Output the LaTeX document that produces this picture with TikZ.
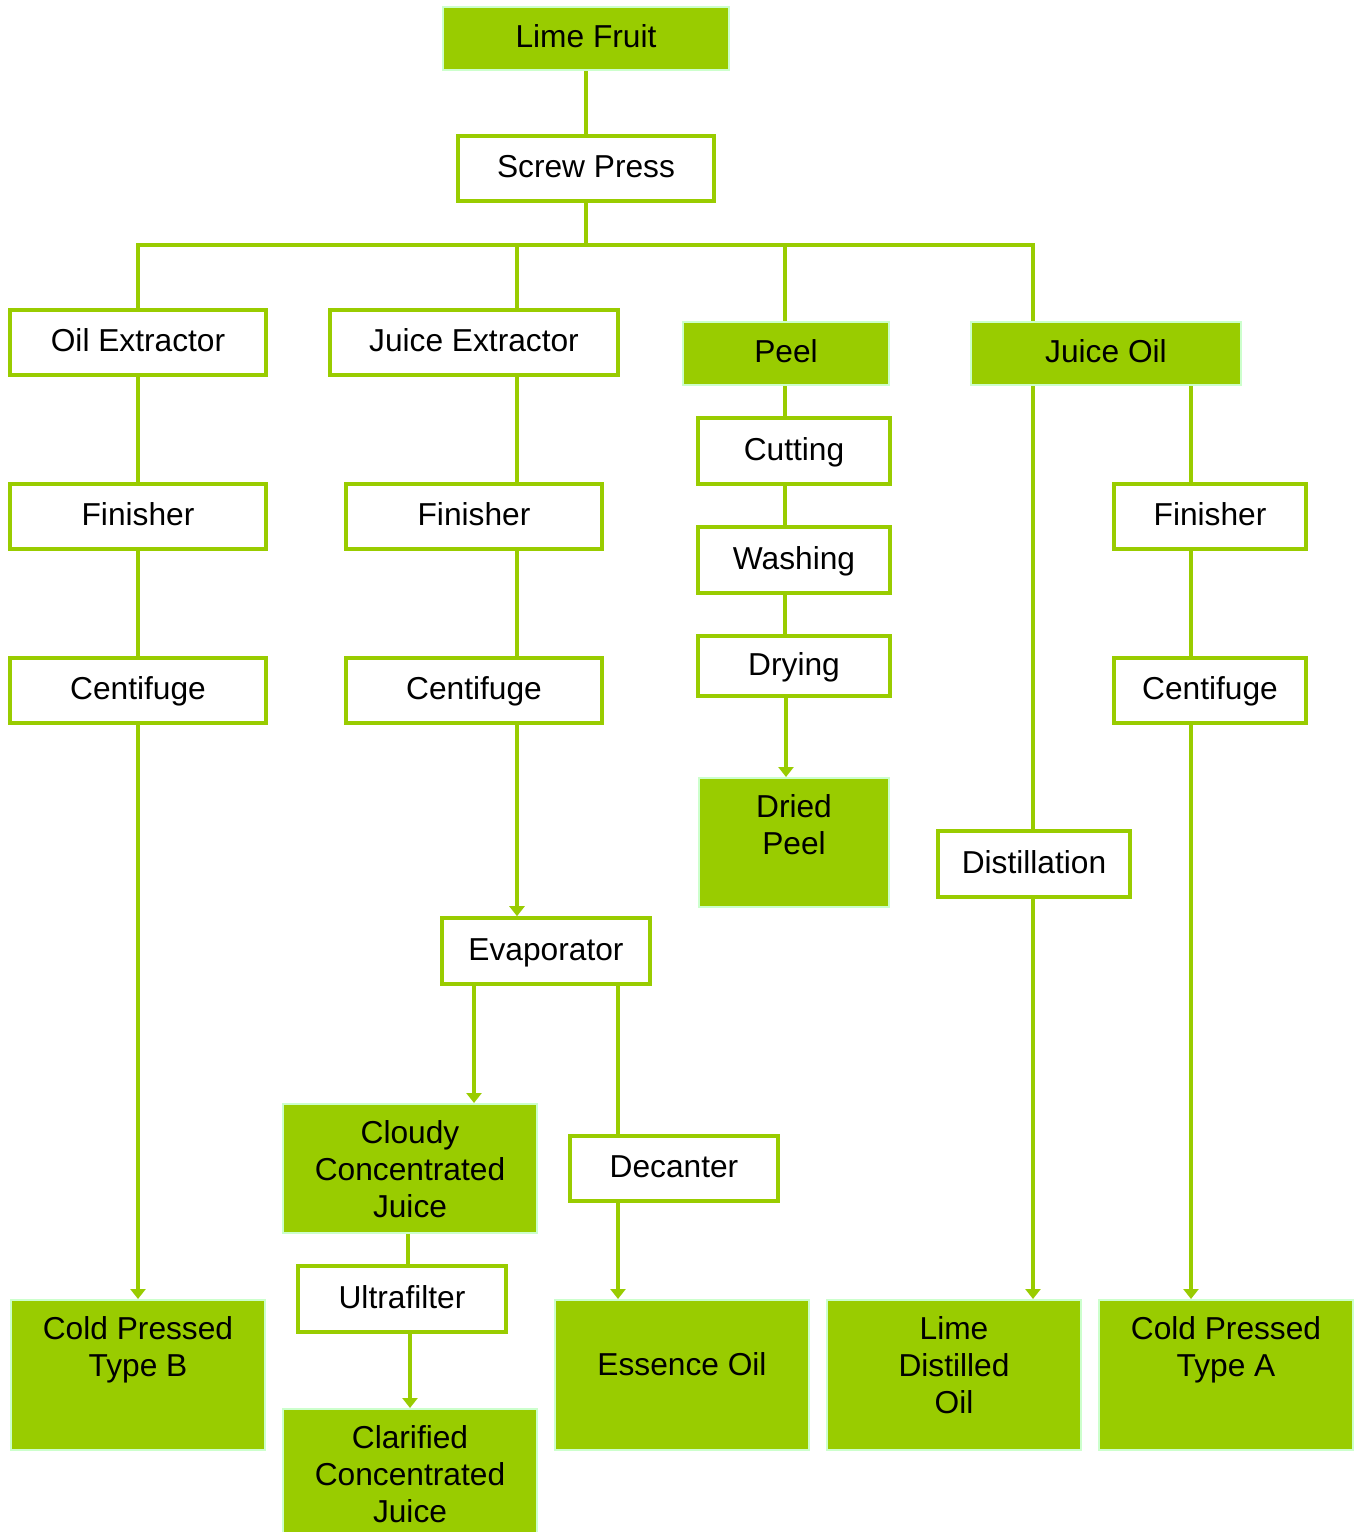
\documentclass[tikz,border=0pt]{standalone}
\usepackage{fontspec}
\setmainfont{Liberation Sans}
\usetikzlibrary{arrows.meta}
\definecolor{lime}{HTML}{99CC00}
\definecolor{lborder}{HTML}{CCFFCC}
\newcommand\diafont{\fontsize{15.85pt}{18.5pt}\selectfont}
\begin{document}
\begin{tikzpicture}[x=0.5pt,y=-0.5pt,
  wbox/.style={draw=lime, line width=1.8pt, fill=white, inner sep=0pt, text height=9.35pt, text depth=0pt, font=\diafont},
  gbox/.style={draw=lborder, line width=1pt, fill=lime, inner sep=0pt, text height=9.35pt, text depth=0pt, font=\diafont},
  txt/.style={font=\diafont, align=center, inner sep=0pt, anchor=north},
  conn/.style={draw=lime, line width=1.8pt},
  arr/.style={conn, -{Triangle[width=7.5pt,length=5pt]}},
  sz/.style 2 args={minimum width=#1, minimum height=#2}
]
\clip (0,0) rectangle (1362,1532);
\fill[white] (0,0) rectangle (1362,1532);

% boxes
\node[gbox, sz={143pt}{31.5pt}] (lf) at (586,38.5) {Lime Fruit};
\node[wbox, sz={128pt}{32.5pt}] (sp) at (586,168.5) {Screw Press};
\node[wbox, sz={128pt}{32.5pt}] (oe) at (138,342.5) {Oil Extractor};
\node[wbox, sz={144pt}{32.5pt}] (je) at (474,342.5) {Juice Extractor};
\node[gbox, sz={103pt}{31.5pt}] (pe) at (786,353.5) {Peel};
\node[gbox, sz={135pt}{31.5pt}] (jo) at (1106,353.5) {Juice Oil};

\node[wbox, sz={128pt}{32.5pt}] (f1) at (138,516.5) {Finisher};
\node[wbox, sz={128pt}{32.5pt}] (c1) at (138,690.5) {Centifuge};
\node[wbox, sz={128pt}{32.5pt}] (f2) at (474,516.5) {Finisher};
\node[wbox, sz={128pt}{32.5pt}] (c2) at (474,690.5) {Centifuge};

\node[wbox, sz={96pt}{33pt}] (cu) at (794,451) {Cutting};
\node[wbox, sz={96pt}{33pt}] (wa) at (794,560) {Washing};
\node[wbox, sz={96pt}{30pt}] (dr) at (794,666) {Drying};
\node[gbox, sz={95pt}{64.5pt}] (dp) at (794,842.5) {};

\node[wbox, sz={96pt}{32.5pt}] (f3) at (1210,516.5) {Finisher};
\node[wbox, sz={96pt}{32.5pt}] (c3) at (1210,690.5) {Centifuge};
\node[wbox, sz={96pt}{33pt}] (di) at (1034,864) {Distillation};

\node[wbox, sz={104pt}{33pt}] (ev) at (546,951) {Evaporator};
\node[gbox, sz={127pt}{64.5pt}] (cc) at (410,1168.5) {};
\node[wbox, sz={104pt}{32.5pt}] (de) at (674,1168.5) {Decanter};
\node[wbox, sz={104pt}{33pt}] (uf) at (402,1299) {Ultrafilter};
\node[gbox, sz={127pt}{68pt}] (cl) at (410,1477) {};

\node[gbox, sz={127pt}{75pt}] (cb) at (138,1375) {};
\node[gbox, sz={127pt}{75pt}] (eo) at (682,1375) {};
\node[gbox, sz={127pt}{75pt}] (ld) at (954,1375) {};
\node[gbox, sz={127pt}{75pt}] (ca) at (1226,1375) {};

% texts of tall boxes
\node[txt] (tdp) at ([yshift=-7.25pt]dp.north) {\strut Dried\\Peel};
\node[txt] (tcc) at ([yshift=-7.25pt]cc.north) {\strut Cloudy\\Concentrated\\Juice};
\node[txt] (tcl) at ([yshift=-7.25pt]cl.north) {\strut Clarified\\Concentrated\\Juice};
\node[txt] (tcb) at ([yshift=-7.25pt]cb.north) {\strut Cold Pressed\\Type B};
\node[txt] (teo) at ([yshift=-25.25pt]eo.north) {\strut Essence Oil};
\node[txt] (tld) at ([yshift=-7.25pt]ld.north) {\strut Lime\\Distilled\\Oil};
\node[txt] (tca) at ([yshift=-7.25pt]ca.north) {\strut Cold Pressed\\Type A};

% helper coordinates
\coordinate (bus) at (586,245);
\coordinate (busL) at (138,245);
\coordinate (busR) at (1033,245);
\coordinate (xJ) at (517,0);
\coordinate (xP) at (785,0);
\coordinate (xD) at (786,0);
\coordinate (xO) at (1033,0);
\coordinate (xA) at (1191,0);
\coordinate (xC) at (474,0);
\coordinate (xE) at (618,0);
\coordinate (xU) at (408,0);
\coordinate (xV) at (410,0);

% connectors
\draw[conn] (lf.south) -- (sp.north);
\draw[conn] (sp.south) -- (bus);
\draw[conn, line join=miter] (oe.north) -- (busL) -- (busR) -- (jo.north -| busR);
\draw[conn] (xJ |- bus) -- (je.north -| xJ);
\draw[conn] (xP |- bus) -- (pe.north -| xP);

\draw[conn] (oe.south) -- (f1.north);
\draw[conn] (f1.south) -- (c1.north);
\draw[arr] (c1.south) -- (cb.north);

\draw[conn] (je.south -| xJ) -- (f2.north -| xJ);
\draw[conn] (f2.south -| xJ) -- (c2.north -| xJ);
\draw[arr] (c2.south -| xJ) -- (ev.north -| xJ);

\draw[conn] (pe.south -| xP) -- (cu.north -| xP);
\draw[conn] (cu.south -| xP) -- (wa.north -| xP);
\draw[conn] (wa.south -| xP) -- (dr.north -| xP);
\draw[arr] (dr.south -| xD) -- (dp.north -| xD);

\draw[conn] (jo.south -| xO) -- (di.north -| xO);
\draw[arr] (di.south -| xO) -- (ld.north -| xO);

\draw[conn] (jo.south -| xA) -- (f3.north -| xA);
\draw[conn] (f3.south -| xA) -- (c3.north -| xA);
\draw[arr] (c3.south -| xA) -- (ca.north -| xA);

\draw[arr] (ev.south -| xC) -- (cc.north -| xC);
\draw[conn] (ev.south -| xE) -- (de.north -| xE);
\draw[arr] (de.south -| xE) -- (eo.north -| xE);

\draw[conn] (cc.south -| xU) -- (uf.north -| xU);
\draw[arr] (uf.south -| xV) -- (cl.north -| xV);
\end{tikzpicture}
\end{document}
